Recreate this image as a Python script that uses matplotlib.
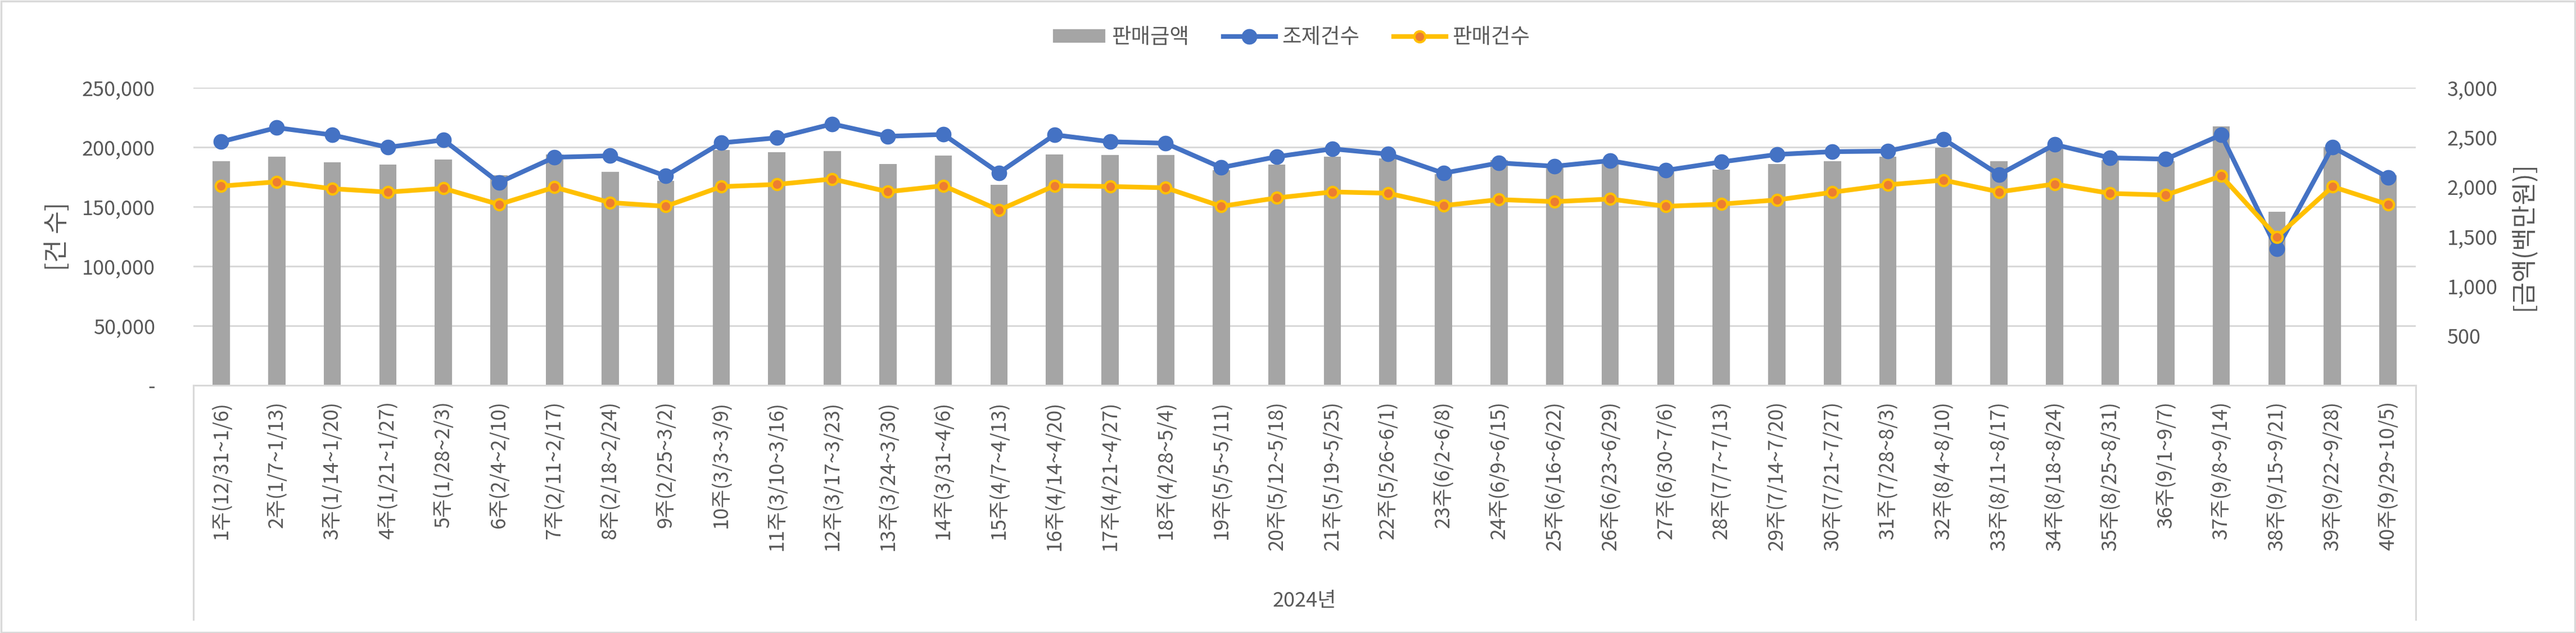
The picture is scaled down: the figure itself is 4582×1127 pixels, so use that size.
import matplotlib
matplotlib.use('Agg')
import matplotlib.pyplot as plt
from matplotlib.lines import Line2D
from matplotlib.patches import Rectangle
import numpy as np

plt.rcParams['font.family'] = ['Noto Sans CJK KR', 'DejaVu Sans']

weeks = ['1주(12/31~1/6)', '2주(1/7~1/13)', '3주(1/14~1/20)', '4주(1/21~1/27)',
         '5주(1/28~2/3)', '6주(2/4~2/10)', '7주(2/11~2/17)', '8주(2/18~2/24)',
         '9주(2/25~3/2)', '10주(3/3~3/9)', '11주(3/10~3/16)', '12주(3/17~3/23)',
         '13주(3/24~3/30)', '14주(3/31~4/6)', '15주(4/7~4/13)', '16주(4/14~4/20)',
         '17주(4/21~4/27)', '18주(4/28~5/4)', '19주(5/5~5/11)', '20주(5/12~5/18)',
         '21주(5/19~5/25)', '22주(5/26~6/1)', '23주(6/2~6/8)', '24주(6/9~6/15)',
         '25주(6/16~6/22)', '26주(6/23~6/29)', '27주(6/30~7/6)', '28주(7/7~7/13)',
         '29주(7/14~7/20)', '30주(7/21~7/27)', '31주(7/28~8/3)', '32주(8/4~8/10)',
         '33주(8/11~8/17)', '34주(8/18~8/24)', '35주(8/25~8/31)', '36주(9/1~9/7)',
         '37주(9/8~9/14)', '38주(9/15~9/21)', '39주(9/22~9/28)', '40주(9/29~10/5)']

# 판매금액 (백만원) - right axis
sales_amount = [2257, 2302, 2245, 2223, 2274, 2115, 2325, 2149, 2062, 2370,
                2347, 2362, 2232, 2317, 2019, 2328, 2323, 2323, 2166, 2223,
                2302, 2289, 2130, 2270, 2194, 2241, 2157, 2172, 2228, 2257,
                2302, 2392, 2257, 2383, 2270, 2260, 2608, 1751, 2402, 2119]

# 조제건수 - left axis
dispense_cnt = [204556, 216350, 210217, 199839, 206129, 170280, 191506, 192764, 175783, 203613,
                207858, 219493, 209116, 210688, 178456, 210374, 204556, 203298, 182858, 191978,
                198581, 194179, 178142, 186789, 183959, 188676, 180500, 187575, 193865, 196223,
                196695, 206758, 176884, 202198, 191034, 189932, 210374, 114463, 200154, 174683]

# 판매건수 - left axis
sales_cnt = [167293, 170910, 165092, 162261, 165406, 151884, 166349, 153456, 150312, 166821,
             168708, 173267, 162576, 167607, 147167, 167607, 166978, 165878, 150312, 157387,
             162419, 161318, 150941, 155972, 154243, 156444, 150312, 152199, 155658, 162104,
             168393, 172324, 162419, 169022, 161161, 159747, 175783, 124683, 166821, 151884]

left_ticks = [0, 50000, 100000, 150000, 200000, 250000]
right_ticks = [500, 1000, 1500, 2000, 2500, 3000]

TXT = '#595959'
GRID = '#D9D9D9'
W, H = 4582, 1127

fig = plt.figure(figsize=(W / 100, H / 100), dpi=100)
fig.patches.append(Rectangle((0.0005, 0.001), 0.999, 0.997, transform=fig.transFigure,
                             fill=False, edgecolor=GRID, linewidth=2.5))

x0, x1, y0, y1 = 344, 4297, 686, 156
ax = fig.add_axes([x0 / W, 1 - y0 / H, (x1 - x0) / W, (y0 - y1) / H])
ax2 = ax.twinx()

x = np.arange(len(weeks))

# bars on ax (drawn below), tick labels on the right
ax.set_ylim(0, 3000)
ax.set_xlim(-0.5, len(weeks) - 0.5)
for v in left_ticks[1:]:
    ax.axhline(v * 3000 / 250000, color=GRID, linewidth=2.2, zorder=0)
bars = ax.bar(x, sales_amount, width=0.31, color='#A5A5A5', zorder=2, label='판매금액')
ax.yaxis.tick_right()
ax.set_yticks(right_ticks)
ax.set_yticklabels(['{:,}'.format(v) for v in right_ticks])
ax.tick_params(axis='y', length=0, pad=40, labelsize=26, labelcolor=TXT)
ax.set_xticks(x)
ax.set_xticklabels(weeks, rotation=90, va='top', ha='center')
ax.tick_params(axis='x', length=0, pad=20, labelsize=26, labelcolor=TXT)
for s in ['top', 'left', 'right']:
    ax.spines[s].set_visible(False)
ax.spines['bottom'].set_color(GRID)
ax.spines['bottom'].set_linewidth(2.2)

# lines on ax2, tick labels on the left
ax2.set_ylim(0, 250000)
ax2.yaxis.tick_left()
ax2.set_yticks(left_ticks)
ax2.set_yticklabels(['-' if v == 0 else '{:,}'.format(v) for v in left_ticks])
ax2.tick_params(axis='y', length=0, pad=49, labelsize=26, labelcolor=TXT)
for s in ax2.spines.values():
    s.set_visible(False)
l1, = ax2.plot(x, dispense_cnt, color='#4472C4', linewidth=6, marker='o',
               markersize=19, markerfacecolor='#4472C4', markeredgecolor='#4472C4',
               zorder=3, label='조제건수')
l2, = ax2.plot(x, sales_cnt, color='#FFC000', linewidth=6, marker='o',
               markersize=14, markerfacecolor='#ED7D31', markeredgecolor='#FFC000',
               markeredgewidth=3, zorder=4, label='판매건수')

# axis titles
fig.text(102 / W, 1 - 421 / H, '[건 수]', rotation=90, ha='center', va='center',
         fontsize=32, color=TXT)
fig.text(4487 / W, 1 - 421 / H, '[금액(백만원)]', rotation=90, ha='center', va='center',
         fontsize=32, color=TXT)

# outer category level box
for xx in (x0, x1):
    fig.add_artist(Line2D([xx / W, xx / W], [1 - 686 / H, 1 - 1103 / H],
                          transform=fig.transFigure, color=GRID, linewidth=2.2))
fig.text((x0 + x1) / 2 / W, 1 - 1070 / H, '2024년', ha='center', va='center',
         fontsize=26, color=TXT)

fig.legend(handles=[bars, l1, l2], loc='center', bbox_to_anchor=(2297 / W, 1 - 67 / H),
           ncol=3, frameon=False, fontsize=27, labelcolor=TXT,
           handlelength=2.5, handleheight=0.6, handletextpad=0.3, columnspacing=1.6)

plt.savefig('out.png', dpi=100)
